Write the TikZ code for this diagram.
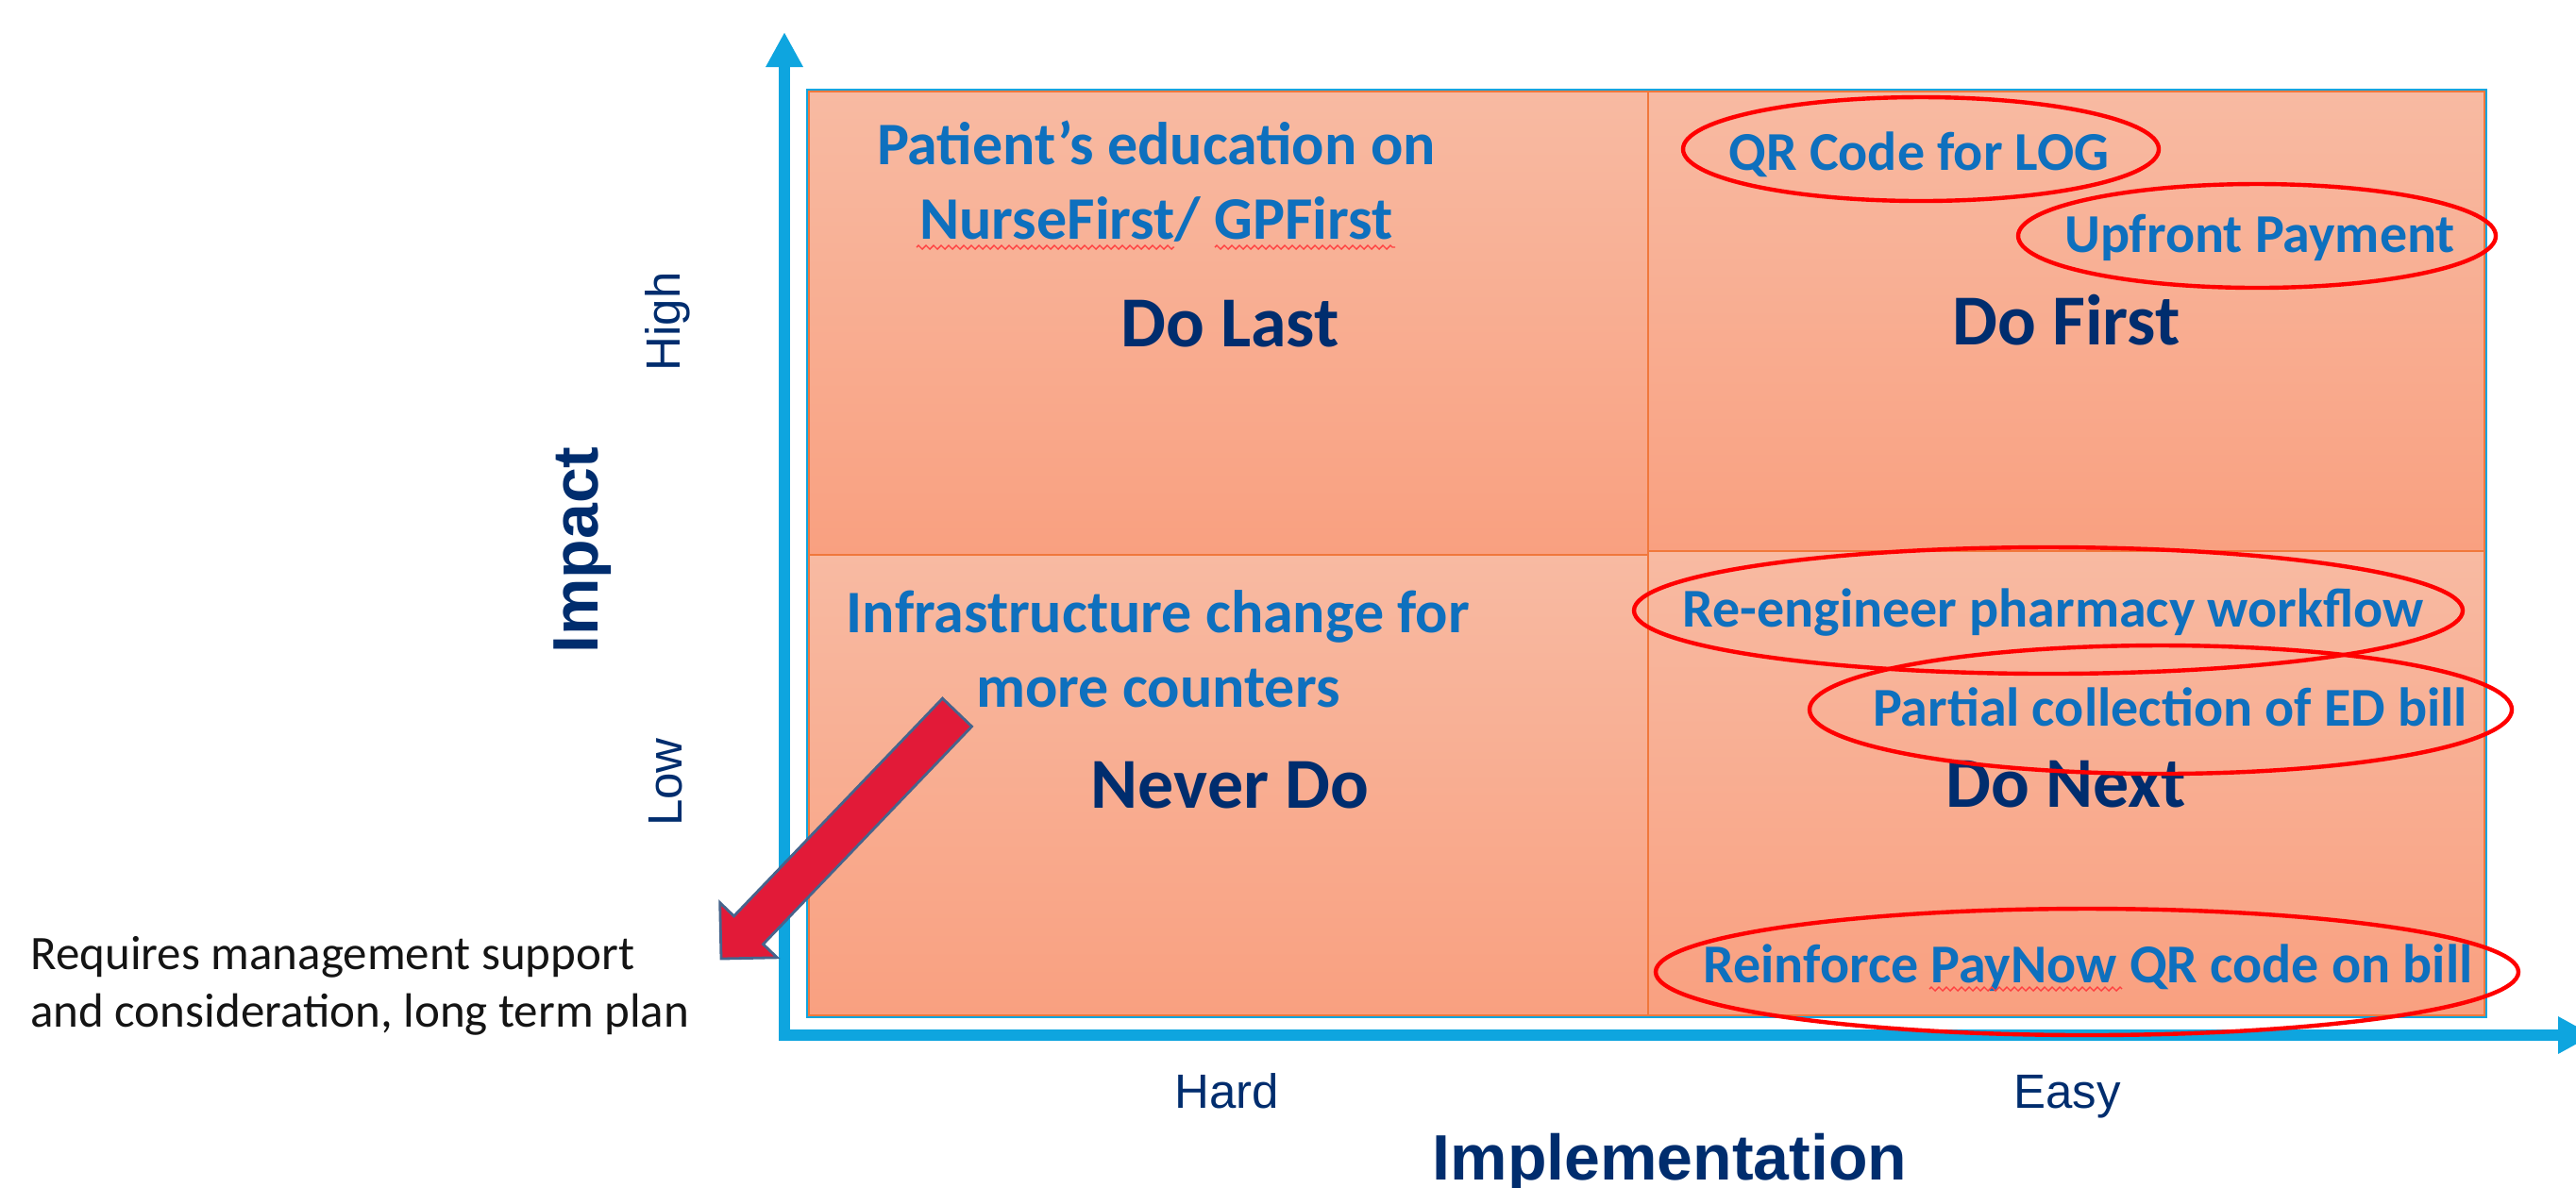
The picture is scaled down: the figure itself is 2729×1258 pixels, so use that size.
\documentclass[tikz,border=0pt]{standalone}
\usepackage{fontspec}
\setmainfont{Carlito}
\newfontfamily\arialf{Liberation Sans}
\usetikzlibrary{arrows.meta,decorations.pathmorphing}

\definecolor{axisblue}{RGB}{14,165,223}
\definecolor{itemblue}{RGB}{14,112,190}
\definecolor{navy}{RGB}{0,45,110}
\definecolor{celltop}{RGB}{248,186,162}
\definecolor{cellbot}{RGB}{249,160,128}
\definecolor{cellline}{RGB}{240,120,60}
\definecolor{arrowred}{RGB}{226,26,56}
\definecolor{arrowedge}{RGB}{70,100,140}
\definecolor{notegray}{RGB}{20,20,20}

\begin{document}
\begin{tikzpicture}[x=0.25pt,y=-0.25pt,
  cell/.style={top color=celltop,bottom color=cellbot,draw=cellline,line width=0.5pt},
  item/.style={text=itemblue,font=\fontsize{16pt}{19.75pt}\selectfont\bfseries,anchor=base,inner sep=0pt,align=center},
  itemR/.style={item,font=\fontsize{14.5pt}{17pt}\selectfont\bfseries},
  quad/.style={text=navy,font=\fontsize{19pt}{23pt}\selectfont\bfseries,anchor=base,inner sep=0pt},
  ring/.style={draw=red,line width=1.1pt},
  axisarrow/.style={draw=axisblue,line width=3pt,-{Triangle[width=9.25pt,length=9.25pt]}},
  tick/.style={text=navy,font=\arialf\fontsize{12.75pt}{15pt}\selectfont,anchor=base,inner sep=0pt},
  axtitle/.style={text=navy,font=\arialf\fontsize{17pt}{20pt}\selectfont\bfseries,anchor=base,inner sep=0pt},
  squiggle/.style={draw=red!75!white,line width=0.35pt,decorate,decoration={zigzag,amplitude=0.5pt,segment length=2pt}},
]
\path[use as bounding box,fill=white] (0,0) rectangle (2729,1258);

% plot area outline and quadrants
\draw[axisblue,line width=0.4pt] (855,95) rectangle (2634,1078);
\path[cell] (857,97) rectangle (1746,588);
\path[cell] (857,588) rectangle (1746,1076);
\path[cell] (1746,97) rectangle (2632,584);
\path[cell] (1746,584) rectangle (2632,1076);

% axes
\coordinate (ybase) at (831,1103);
\coordinate (ytip) at (831,34);
\coordinate (xbase) at (825,1097);
\coordinate (xtip) at (2747,1097);
\draw[axisarrow] (ybase) -- (ytip);
\draw[axisarrow] (xbase) -- (xtip);

% axis labels
\node[tick,rotate=90] (high) at (720,341) {High};
\node[tick,rotate=90] (low) at (722,829) {Low};
\node[tick] (hard) at (1300,1174) {Hard};
\node[tick] (easy) at (2190,1174) {Easy};
\node[axtitle,rotate=90] (impact) at (633,583) {Impact};
\node[axtitle] (impl) at (1769,1250) {Implementation};

% quadrant contents (multi-line nodes are anchored at their last baseline)
\node[item] (patient) at (1225,253) {Patient’s education on\\NurseFirst/ GPFirst};
\node[quad] (dolast) at (1303,367) {Do Last};
\node[itemR] (qr) at (2033,180) {QR Code for LOG};
\node[itemR] (upfront) at (2394,267) {Upfront Payment};
\node[quad] (dofirst) at (2189,365) {Do First};
\node[item] (infra) at (1227,749) {Infrastructure change for\\more counters};
\node[quad] (never) at (1303,856) {Never Do};
\node[itemR] (reeng) at (2175,664) {Re-engineer pharmacy workflow};
\node[itemR] (partial) at (2299,769) {Partial collection of ED bill};
\node[quad] (donext) at (2189,855) {Do Next};
\node[itemR] (reinforce) at (2212,1041) {Reinforce PayNow QR code on bill};

% spell-check squiggles
\draw[squiggle] (971,262) -- (1244,262);
\draw[squiggle] (1287,262) -- (1478,262);
\draw[squiggle] (2044,1048) -- (2248,1048);

% red rings
\draw[ring] (2035,158) ellipse [x radius=252,y radius=55];
\draw[ring] (2391,250) ellipse [x radius=253,y radius=55];
\draw[ring] (2170,647) ellipse [x radius=439,y radius=67];
\draw[ring] (2289,752) ellipse [x radius=372,y radius=68];
\draw[ring] (2211,1030) ellipse [x radius=457,y radius=67];

% note and red block arrow
\node[anchor=base west,inner sep=0pt,align=left,text=notegray,
      font=\fontsize{12.75pt}{15.25pt}\selectfont] (note) at (31.5,1088)
      {Requires management support\\and consideration, long term plan};
\coordinate (arrtip) at (764,1016);
\draw[fill=arrowred,draw=arrowedge,line width=0.7pt,line join=miter]
  (1029.5,769.9) -- (808.5,1000.6) -- (823.3,1014.8) -- (arrtip)
  -- (762.7,956.6) -- (777.5,970.8) -- (998.5,740.1) -- cycle;
\end{tikzpicture}
\end{document}
